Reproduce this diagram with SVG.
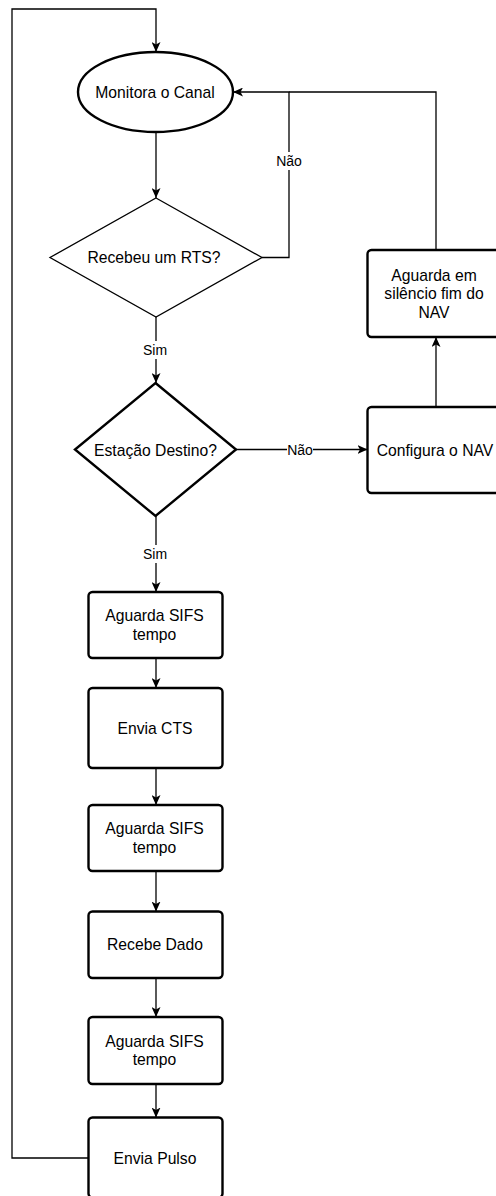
<svg xmlns="http://www.w3.org/2000/svg" width="496" height="1196" viewBox="0 0 496 1196">
  <style>
    .shape { fill: #ffffff; stroke: #000000; stroke-width: 2.4; }
    .thin { stroke-width: 1.3; }
    .edge { fill: none; stroke: #000000; stroke-width: 1.3; }
    .txt { font-family: "Liberation Sans", Arial, Helvetica, sans-serif; font-size: 15.7px; fill: #000000; text-anchor: middle; }
    .lbl { font-family: "Liberation Sans", Arial, Helvetica, sans-serif; font-size: 14px; fill: #000000; text-anchor: middle; }
    .lblbg { fill: #ffffff; stroke: none; }
  </style>
  <defs>
    <marker id="arrow" viewBox="0 0 10 9" refX="10" refY="4.5" markerWidth="10" markerHeight="9" markerUnits="userSpaceOnUse" orient="auto">
      <path d="M0,0 L10,4.5 L0,9 L2.5,4.5 Z" fill="#000000"/>
    </marker>
  </defs>
  <rect width="496" height="1196" fill="#ffffff"/>

  <!-- connectors -->
  <g id="connectors">
    <path class="edge" d="M88,1158 H12 V9 H156 V52" marker-end="url(#arrow)"/>
    <path class="edge" d="M156,132 V198" marker-end="url(#arrow)"/>
    <path class="edge" d="M262,257.5 H289 V92 H233" marker-end="url(#arrow)"/>
    <path class="edge" d="M436,250 V92 H289"/>
    <path class="edge" d="M156,317 V383" marker-end="url(#arrow)"/>
    <path class="edge" d="M236,449.5 H367.5" marker-end="url(#arrow)"/>
    <path class="edge" d="M436,407 V337" marker-end="url(#arrow)"/>
    <path class="edge" d="M156,516 V592" marker-end="url(#arrow)"/>
    <path class="edge" d="M156,658 V688" marker-end="url(#arrow)"/>
    <path class="edge" d="M156,768 V805" marker-end="url(#arrow)"/>
    <path class="edge" d="M156,871 V911.5" marker-end="url(#arrow)"/>
    <path class="edge" d="M156,978 V1017" marker-end="url(#arrow)"/>
    <path class="edge" d="M156,1084 V1117.5" marker-end="url(#arrow)"/>

    <!-- edge labels -->
    <rect class="lblbg" x="276" y="152" width="26" height="18"/>
    <text class="lbl" x="289" y="166">Não</text>
    <rect class="lblbg" x="142" y="341" width="26" height="18"/>
    <text class="lbl" x="155" y="355">Sim</text>
    <rect class="lblbg" x="287" y="441" width="26" height="18"/>
    <text class="lbl" x="300" y="455">Não</text>
    <rect class="lblbg" x="142" y="545" width="26" height="18"/>
    <text class="lbl" x="155" y="559">Sim</text>
  </g>

  <g id="monitora">
    <ellipse class="shape" cx="155.5" cy="92" rx="77.5" ry="40"/>
    <text class="txt" x="155" y="97.5">Monitora o Canal</text>
  </g>

  <g id="recebeu-rts">
    <polygon class="shape thin" points="156,198 262,257.5 156,317 50,257.5"/>
    <text class="txt" x="154" y="262.5">Recebeu um RTS?</text>
  </g>

  <g id="estacao-destino">
    <polygon class="shape" points="155.5,383 236,449.5 155.5,516 75,449.5"/>
    <text class="txt" x="155.5" y="455.5">Estação Destino?</text>
  </g>

  <g id="aguarda-nav">
    <rect class="shape" x="367.5" y="250" width="138" height="87" rx="4"/>
    <text class="txt" x="434" y="280.5">Aguarda em</text>
    <text class="txt" x="434" y="299">silêncio fim do</text>
    <text class="txt" x="434" y="317.5">NAV</text>
  </g>

  <g id="configura-nav">
    <rect class="shape" x="367.5" y="407" width="138" height="86" rx="4"/>
    <text class="txt" x="435" y="455.5">Configura o NAV</text>
  </g>

  <g id="sifs-1">
    <rect class="shape" x="88.5" y="592" width="134" height="66" rx="4"/>
    <text class="txt" x="154.5" y="621">Aguarda SIFS</text>
    <text class="txt" x="154.5" y="639.5">tempo</text>
  </g>

  <g id="envia-cts">
    <rect class="shape" x="88.5" y="688" width="134" height="80" rx="4"/>
    <text class="txt" x="155" y="733.5">Envia CTS</text>
  </g>

  <g id="sifs-2">
    <rect class="shape" x="88.5" y="805" width="134" height="66" rx="4"/>
    <text class="txt" x="154.5" y="834">Aguarda SIFS</text>
    <text class="txt" x="154.5" y="852.5">tempo</text>
  </g>

  <g id="recebe-dado">
    <rect class="shape" x="88.5" y="911.5" width="134" height="66.5" rx="4"/>
    <text class="txt" x="155" y="950">Recebe Dado</text>
  </g>

  <g id="sifs-3">
    <rect class="shape" x="88.5" y="1017" width="134" height="67" rx="4"/>
    <text class="txt" x="154.5" y="1046.5">Aguarda SIFS</text>
    <text class="txt" x="154.5" y="1065">tempo</text>
  </g>

  <g id="envia-pulso">
    <rect class="shape" x="88.5" y="1117.5" width="134" height="80" rx="4"/>
    <text class="txt" x="155" y="1163.5">Envia Pulso</text>
  </g>
</svg>
